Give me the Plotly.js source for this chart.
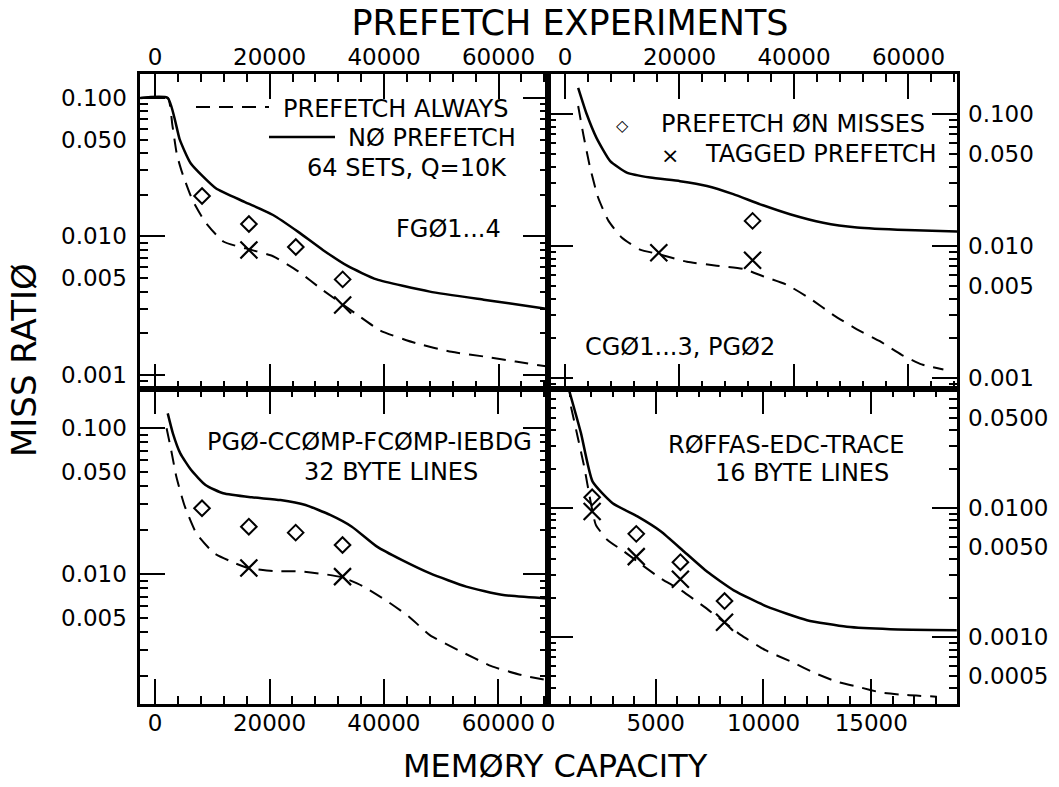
<!DOCTYPE html>
<html><head><meta charset="utf-8">
<script src="https://cdn.plot.ly/plotly-3.0.1.min.js"></script>
<style>html,body{margin:0;padding:0;background:#fff;}#chart{width:1059px;height:787px;}</style>
</head><body><div id="chart"></div>
<script>
// ---------------- DATA ----------------
// Top-left panel: FGØ1...4
const tlAlwaysX = [-2600, 2200, 3000, 3800, 4700, 6500, 8700, 11900, 16800, 20600, 25000, 29300, 34900, 39300, 45500, 51800, 58000, 63000, 68600];
const tlAlwaysY = [0.1, 0.1, 0.064, 0.039, 0.029, 0.0184, 0.0128, 0.0092, 0.0080, 0.0072, 0.0056, 0.0041, 0.0028, 0.0021, 0.0017, 0.00147, 0.00135, 0.00125, 0.00115];
const tlNoneX = [-2600, 2200, 4300, 6200, 10600, 15600, 20600, 25000, 29300, 33700, 38700, 48000, 57400, 61800, 68600];
const tlNoneY = [0.1, 0.1, 0.050, 0.0338, 0.0223, 0.0178, 0.0143, 0.0108, 0.0080, 0.0061, 0.0049, 0.0040, 0.0035, 0.0033, 0.0030];
const tlMissX = [8192, 16384, 24576, 32768];
const tlMissY = [0.0196, 0.0123, 0.0084, 0.0049];
const tlTagX = [16384, 32768];
const tlTagY = [0.0080, 0.0032];

// Top-right panel: CGØ1...3, PGØ2
const trAlwaysX = [2300, 3200, 4400, 5800, 7600, 9900, 13100, 16300, 21300, 26500, 31200, 34600, 38700, 42800, 46900, 51000, 55000, 58800, 62300, 66100];
const trAlwaysY = [0.115, 0.070, 0.039, 0.0232, 0.0155, 0.0116, 0.0094, 0.0087, 0.0076, 0.0071, 0.0067, 0.0059, 0.0051, 0.0040, 0.0030, 0.00234, 0.0019, 0.0015, 0.00127, 0.00116];
const trNoneX = [2300, 3800, 5500, 7900, 10800, 14900, 20100, 24800, 29400, 34100, 39300, 45100, 51000, 59700, 68500];
const trNoneY = [0.158, 0.0995, 0.066, 0.044, 0.036, 0.033, 0.031, 0.0285, 0.0247, 0.0207, 0.0174, 0.0150, 0.0138, 0.0132, 0.0129];
const trMissX = [32768];
const trMissY = [0.0155];
const trTagX = [16384, 32768];
const trTagY = [0.0089, 0.0078];

// Bottom-left panel: PGØ-CCØMP-FCØMP-IEBDG, 32 byte lines
const blAlwaysX = [2000, 2800, 3700, 5100, 7200, 10300, 14100, 16300, 20600, 25600, 29400, 32700, 36200, 40600, 44400, 48100, 53100, 58800, 64100, 68400];
const blAlwaysY = [0.0995, 0.0706, 0.0465, 0.0297, 0.0190, 0.0139, 0.0118, 0.0110, 0.0105, 0.0104, 0.0100, 0.0095, 0.0083, 0.0065, 0.0051, 0.0038, 0.0030, 0.00234, 0.00203, 0.00188];
const blNoneX = [2200, 3100, 4400, 6300, 8800, 11900, 16900, 21900, 26300, 30600, 34400, 38800, 43100, 48100, 54400, 60600, 68700];
const blNoneY = [0.126, 0.092, 0.067, 0.0515, 0.0407, 0.0357, 0.0335, 0.0321, 0.0297, 0.0254, 0.0211, 0.0154, 0.0125, 0.0101, 0.0082, 0.0072, 0.0068];
const blMissX = [8192, 16384, 24576, 32768];
const blMissY = [0.0282, 0.0211, 0.0192, 0.0158];
const blTagX = [16384, 32768];
const blTagY = [0.0110, 0.0096];

// Bottom-right panel: RØFFAS-EDC-TRACE, 16 byte lines
const brAlwaysX = [1065, 1375, 1680, 1990, 2220, 2760, 3530, 4380, 5230, 6160, 7240, 8130, 8940, 10090, 11330, 12330, 13410, 14410, 15500, 16650, 18040];
const brAlwaysY = [0.061, 0.0357, 0.0209, 0.0109, 0.0074, 0.00565, 0.0046, 0.0036, 0.00285, 0.00231, 0.00172, 0.00132, 0.00104, 0.00079, 0.00064, 0.00053, 0.00045, 0.00041, 0.00037, 0.000355, 0.000345];
const brNoneX = [950, 1530, 2070, 3000, 4150, 5230, 6310, 7390, 8620, 10170, 12020, 13870, 15880, 18970];
const brNoneY = [0.085, 0.038, 0.0160, 0.0109, 0.0086, 0.0066, 0.0046, 0.0032, 0.0023, 0.00172, 0.00135, 0.0012, 0.00115, 0.00113];
const brMissX = [2048, 4096, 6144, 8192];
const brMissY = [0.0121, 0.0063, 0.0038, 0.0019];
const brTagX = [2048, 4096, 6144, 8192];
const brTagY = [0.0094, 0.0042, 0.0028, 0.0013];

// Tick labels
const yLabVals3 = [0.001, 0.005, 0.01, 0.05, 0.1];
const yLabText3 = ['0.001', '0.005', '0.010', '0.050', '0.100'];
const yLabVals4 = [0.0005, 0.001, 0.005, 0.01, 0.05];
const yLabText4 = ['0.0005', '0.0010', '0.0050', '0.0100', '0.0500'];

// ---------------- LAYOUT GEOMETRY ----------------
const L = 140, R = 957, T = 74, B = 704, XS = 548, YS = 389;
const px = x => (x - L) / (R - L);
const py = y => (B - y) / (B - T);
const xd = px(XS), yd = py(YS);
const FONT = 'DejaVu Sans, Liberation Sans, sans-serif';
const tickfont = {family: FONT, size: 23, color: '#000'};
const DASH = '14px,9px';

const common = {tickwidth: 2, tickcolor: '#000', showgrid: false, zeroline: false, ticks: 'inside',
  linecolor: '#000', linewidth: 3, mirror: 'ticks', showline: true};

function xAxis(domain, anchor, side, range, dtick, minorDtick) {
  return Object.assign({}, common, {domain, anchor, side, range, tickmode: 'linear', tick0: 0, dtick, tickformat: 'd',
    ticklen: 25, tickfont, ticklabelstandoff: side === 'top' ? -3 : -4,
    minor: {dtick: minorDtick, ticks: 'inside', ticklen: 8, tickwidth: 2, tickcolor: '#000'}});
}
function decadesIn(range) {
  const out = [];
  for (let e = Math.floor(range[0]); e <= Math.ceil(range[1]); e++) out.push(Math.pow(10, e));
  return out;
}
function inRange(v, range) { const l = Math.log10(v); return l >= range[0] && l <= range[1]; }
function yAxis(domain, anchor, side, range) {
  const dec = decadesIn(range).filter(v => inRange(v, range));
  const minorVals = [];
  decadesIn(range).forEach(d => {
    for (let m = 2; m <= 9; m++) { const v = Number((m * d).toPrecision(6)); if (inRange(v, range)) minorVals.push(v); }
  });
  return Object.assign({}, common, {type: 'log', domain, anchor, side, range, tickmode: 'array', tickvals: dec,
    ticklen: 25, showticklabels: false,
    minor: {tickmode: 'array', tickvals: minorVals, ticks: 'inside', ticklen: 8, tickwidth: 2, tickcolor: '#000'}});
}
// y tick labels, placed through the y axis scale
function yLabels(xa, ya, side, range, vals, texts) {
  const out = [];
  vals.forEach((v, i) => {
    if (!inRange(v, range)) return;
    out.push({text: texts[i], xref: xa + ' domain', yref: ya, x: side === 'left' ? 0 : 1, y: Math.log10(v),
      xanchor: side === 'left' ? 'right' : 'left', yanchor: 'middle', xshift: side === 'left' ? -11 : 9,
      showarrow: false, font: tickfont});
  });
  return out;
}

const rTL = [-3.101, -0.827], rTR = [-3.083, -0.697], rBL = [-2.890, -0.733], rBR = [-3.519, -1.078];
const xrTL = [-2650, 68650], xrTR = [-2970, 68480], xrBL = [-2650, 68700], xrBR = [0, 18980];

function lineTrace(x, y, xa, ya, dashed) {
  return {type: 'scatter', mode: 'lines', x, y, xaxis: xa, yaxis: ya, hoverinfo: 'skip',
    line: {color: '#000', width: dashed ? 2 : 2.5, dash: dashed ? DASH : 'solid', shape: 'spline', smoothing: 0.5}};
}
function diaTrace(x, y, xa, ya) {
  return {type: 'scatter', mode: 'markers', x, y, xaxis: xa, yaxis: ya, hoverinfo: 'skip',
    marker: {symbol: 'diamond-open', size: 12, color: '#000', line: {width: 2, color: '#000'}}};
}
function xTrace(x, y, xa, ya) {
  return {type: 'scatter', mode: 'markers', x, y, xaxis: xa, yaxis: ya, hoverinfo: 'skip',
    marker: {symbol: 'x-thin-open', size: 17, color: '#000', line: {width: 2.2, color: '#000'}}};
}

const data = [
  lineTrace(tlAlwaysX, tlAlwaysY, 'x', 'y', true), lineTrace(tlNoneX, tlNoneY, 'x', 'y', false),
  diaTrace(tlMissX, tlMissY, 'x', 'y'), xTrace(tlTagX, tlTagY, 'x', 'y'),
  lineTrace(trAlwaysX, trAlwaysY, 'x2', 'y2', true), lineTrace(trNoneX, trNoneY, 'x2', 'y2', false),
  diaTrace(trMissX, trMissY, 'x2', 'y2'), xTrace(trTagX, trTagY, 'x2', 'y2'),
  lineTrace(blAlwaysX, blAlwaysY, 'x3', 'y3', true), lineTrace(blNoneX, blNoneY, 'x3', 'y3', false),
  diaTrace(blMissX, blMissY, 'x3', 'y3'), xTrace(blTagX, blTagY, 'x3', 'y3'),
  lineTrace(brAlwaysX, brAlwaysY, 'x4', 'y4', true), lineTrace(brNoneX, brNoneY, 'x4', 'y4', false),
  diaTrace(brMissX, brMissY, 'x4', 'y4'), xTrace(brTagX, brTagY, 'x4', 'y4')
];

function ann(text, x, y, xanchor, size, extra) {
  return Object.assign({text, x: px(x), y: py(y), xref: 'paper', yref: 'paper', xanchor, yanchor: 'middle',
    showarrow: false, font: {family: FONT, size: size || 24, color: '#000'}}, extra || {});
}
function keyLine(x0, x1, y, dashed) {
  return {type: 'line', xref: 'paper', yref: 'paper', x0: px(x0), x1: px(x1), y0: py(y), y1: py(y),
    line: {color: '#000', width: dashed ? 2 : 2.5, dash: dashed ? DASH : 'solid'}};
}

const layout = {
  width: 1059, height: 787, margin: {l: L, r: 1059 - R, t: T, b: 787 - B, pad: 0},
  paper_bgcolor: '#fff', plot_bgcolor: '#fff', showlegend: false,
  title: {text: 'PREFETCH EXPERIMENTS', x: 570 / 1059, y: 1 - 23 / 787, xref: 'container', yref: 'container',
    xanchor: 'center', yanchor: 'middle', font: {family: FONT, size: 35, color: '#000'}},
  xaxis: xAxis([0, xd], 'y', 'top', xrTL, 20000, 4000),
  yaxis: yAxis([yd, 1], 'x', 'left', rTL),
  xaxis2: xAxis([xd, 1], 'y2', 'top', xrTR, 20000, 4000),
  yaxis2: yAxis([yd, 1], 'x2', 'right', rTR),
  xaxis3: xAxis([0, xd], 'y3', 'bottom', xrBL, 20000, 4000),
  yaxis3: yAxis([0, yd], 'x3', 'left', rBL),
  xaxis4: xAxis([xd, 1], 'y4', 'bottom', xrBR, 5000, 1000),
  yaxis4: yAxis([0, yd], 'x4', 'right', rBR),
  shapes: [keyLine(196, 269, 107, true), keyLine(269, 335, 137, false)],
  annotations: [].concat(
    yLabels('x', 'y', 'left', rTL, yLabVals3, yLabText3),
    yLabels('x2', 'y2', 'right', rTR, yLabVals3, yLabText3),
    yLabels('x3', 'y3', 'left', rBL, yLabVals3, yLabText3),
    yLabels('x4', 'y4', 'right', rBR, yLabVals4, yLabText4),
    [
    ann('PREFETCH ALWAYS', 510, 109, 'right'),
    ann('NØ PREFETCH', 518, 138, 'right'),
    ann('64 SETS, Q=10K', 509, 168, 'right'),
    ann('FGØ1...4', 503, 229, 'right'),
    ann('◇', 622, 125, 'center', 16),
    ann('×', 670, 155, 'center', 22),
    ann('PREFETCH ØN MISSES', 927, 124, 'right'),
    ann('TAGGED PREFETCH', 939, 154, 'right'),
    ann('CGØ1...3, PGØ2', 583, 347, 'left'),
    ann('PGØ-CCØMP-FCØMP-IEBDG', 369, 442, 'center'),
    ann('32 BYTE LINES', 391, 472, 'center'),
    ann('RØFFAS-EDC-TRACE', 786, 445, 'center'),
    ann('16 BYTE LINES', 802, 473, 'center'),
    ann('MEMØRY CAPACITY', 555, 787, 'center', 32, {yanchor: 'bottom'}),
    ann('MISS RATIØ', 24, 360, 'center', 34, {textangle: -90})
  ])
};

Plotly.newPlot('chart', data, layout, {staticPlot: true, displayModeBar: false});
</script>
</body></html>
